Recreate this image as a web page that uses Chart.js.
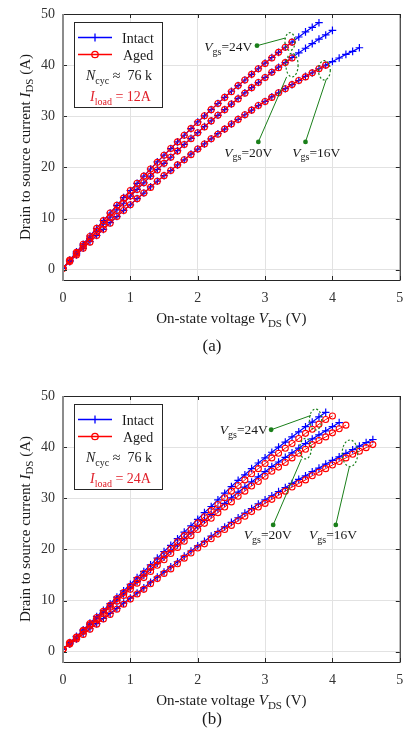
<!DOCTYPE html>
<html>
<head>
<meta charset="utf-8">
<script src="https://cdn.jsdelivr.net/npm/chart.js@4.4.0/dist/chart.umd.min.js"></script>
<style>
    body { margin: 0; background: #fff; }
    canvas { display: block; }
</style>
</head>
<body>
<canvas id="graficoA" width="405" height="382"></canvas>
<canvas id="graficoB" width="405" height="354"></canvas>
<script>
// Tensión (V), común a todas las curvas
const voltaje = [0, 0.1, 0.2, 0.3, 0.4, 0.5, 0.6, 0.7, 0.8, 0.9,
    1.0, 1.1, 1.2, 1.3, 1.4, 1.5, 1.6, 1.7, 1.8, 1.9,
    2.0, 2.1, 2.2, 2.3, 2.4, 2.5, 2.6, 2.7, 2.8, 2.9,
    3.0, 3.1, 3.2, 3.3, 3.4, 3.5, 3.6, 3.7, 3.8, 3.9,
    4.0, 4.1, 4.2, 4.3, 4.4, 4.5, 4.6];
const marcasX = [0, 1, 2, 3, 4, 5];
const marcasY = [0, 10, 20, 30, 40, 50];

// (a) Iload = 12A
const a24Intacto = [0.3, 1.9, 3.5, 5.0, 6.6, 8.1, 9.6, 11.1, 12.6, 14.1, 15.5, 16.9, 18.3, 19.7, 21.1, 22.4, 23.7, 25.0, 26.3, 27.6, 28.9, 30.1, 31.3, 32.5, 33.7, 34.9, 36.0, 37.1, 38.2, 39.3, 40.4, 41.5, 42.5, 43.5, 44.5, 45.5, 46.5, 47.4, 48.3];
const a24Envejecido = [0.3, 1.9, 3.4, 5.0, 6.5, 8.1, 9.6, 11.1, 12.6, 14.0, 15.5, 16.9, 18.3, 19.7, 21.0, 22.4, 23.7, 25.0, 26.3, 27.6, 28.8, 30.1, 31.3, 32.5, 33.7, 34.8, 36.0, 37.1, 38.2, 39.3, 40.3, 41.4, 42.5, 43.5, 44.5];
const a20Intacto = [0.3, 1.8, 3.2, 4.7, 6.1, 7.5, 8.9, 10.3, 11.7, 13.0, 14.4, 15.7, 17.0, 18.3, 19.6, 20.8, 22.0, 23.3, 24.5, 25.7, 26.8, 28.0, 29.1, 30.2, 31.3, 32.4, 33.5, 34.6, 35.6, 36.6, 37.6, 38.6, 39.6, 40.5, 41.5, 42.4, 43.3, 44.2, 45.1, 45.9, 46.8];
const a20Envejecido = [0.3, 1.8, 3.2, 4.6, 6.1, 7.5, 8.9, 10.3, 11.6, 13.0, 14.4, 15.7, 17.0, 18.3, 19.5, 20.8, 22.0, 23.2, 24.5, 25.6, 26.8, 27.9, 29.1, 30.2, 31.3, 32.4, 33.4, 34.5, 35.6, 36.6, 37.6, 38.6, 39.5, 40.5, 41.4];
const a16Intacto = [0.3, 1.6, 2.9, 4.2, 5.5, 6.7, 7.9, 9.2, 10.4, 11.6, 12.7, 13.9, 15.0, 16.2, 17.3, 18.4, 19.4, 20.5, 21.5, 22.6, 23.6, 24.6, 25.6, 26.6, 27.5, 28.5, 29.4, 30.3, 31.2, 32.1, 32.9, 33.8, 34.6, 35.4, 36.2, 37.0, 37.8, 38.5, 39.3, 40.0, 40.7, 41.4, 42.1, 42.7, 43.4];
const a16Envejecido = [0.3, 1.6, 2.9, 4.2, 5.4, 6.7, 7.9, 9.1, 10.4, 11.6, 12.7, 13.9, 15.0, 16.1, 17.3, 18.4, 19.4, 20.5, 21.5, 22.5, 23.6, 24.6, 25.6, 26.5, 27.5, 28.5, 29.4, 30.3, 31.2, 32.1, 32.9, 33.7, 34.6, 35.4, 36.2, 37.0, 37.7, 38.5, 39.3, 40.0];

// (b) Iload = 24A
const b24Intacto = [0.5, 1.8, 3.0, 4.3, 5.6, 6.9, 8.1, 9.4, 10.7, 11.9, 13.2, 14.5, 15.7, 17.0, 18.3, 19.6, 20.8, 22.1, 23.4, 24.6, 25.9, 27.2, 28.4, 29.7, 31.0, 32.3, 33.5, 34.6, 35.8, 36.9, 37.9, 39.0, 40.0, 41.0, 42.0, 43.0, 44.0, 44.9, 45.9, 46.8];
const b24Envejecido = [0.5, 1.8, 2.9, 4.2, 5.5, 6.7, 7.9, 9.1, 10.4, 11.6, 12.8, 14.1, 15.3, 16.5, 17.8, 19.0, 20.2, 21.5, 22.7, 23.9, 25.2, 26.4, 27.6, 28.8, 30.1, 31.4, 32.5, 33.6, 34.8, 35.8, 36.8, 37.9, 38.8, 39.8, 40.7, 41.7, 42.7, 43.5, 44.5, 45.4, 46.1];
const b20Intacto = [0.5, 1.7, 2.9, 4.1, 5.3, 6.5, 7.7, 8.9, 10.1, 11.3, 12.5, 13.7, 14.9, 16.1, 17.3, 18.5, 19.7, 20.9, 22.1, 23.3, 24.5, 25.7, 26.8, 27.9, 29.0, 30.1, 31.2, 32.2, 33.2, 34.2, 35.2, 36.2, 37.1, 38.0, 38.9, 39.8, 40.7, 41.6, 42.4, 43.2, 44.0, 44.8];
const b20Envejecido = [0.5, 1.7, 2.8, 4.0, 5.2, 6.3, 7.5, 8.7, 9.9, 11.0, 12.2, 13.4, 14.5, 15.7, 16.9, 18.0, 19.2, 20.4, 21.6, 22.7, 23.9, 25.1, 26.1, 27.2, 28.3, 29.3, 30.4, 31.4, 32.4, 33.3, 34.3, 35.3, 36.1, 37.0, 37.9, 38.8, 39.6, 40.5, 41.3, 42.0, 42.8, 43.6, 44.3];
const b16Intacto = [0.5, 1.5, 2.5, 3.5, 4.5, 5.5, 6.5, 7.5, 8.5, 9.5, 10.5, 11.5, 12.5, 13.6, 14.6, 15.6, 16.6, 17.6, 18.7, 19.7, 20.7, 21.6, 22.6, 23.5, 24.4, 25.3, 26.2, 27.1, 28.0, 28.9, 29.7, 30.5, 31.3, 32.1, 32.9, 33.7, 34.4, 35.2, 35.9, 36.7, 37.4, 38.1, 38.8, 39.5, 40.2, 40.9, 41.5];
const b16Envejecido = [0.5, 1.5, 2.5, 3.4, 4.4, 5.4, 6.4, 7.3, 8.3, 9.3, 10.3, 11.3, 12.2, 13.3, 14.3, 15.3, 16.2, 17.2, 18.3, 19.3, 20.3, 21.1, 22.1, 23.0, 23.9, 24.7, 25.6, 26.5, 27.4, 28.3, 29.0, 29.8, 30.6, 31.4, 32.2, 32.9, 33.6, 34.4, 35.1, 35.8, 36.5, 37.2, 37.9, 38.6, 39.2, 39.9, 40.5];

const FUENTE = '"Liberation Serif", "Times New Roman", serif';
const TINTA = '#262626';
const VERDE = '#1a7f1a';
const AZUL = '#0000ff';
const ROJO = '#ff0000';

// texto con cursivas y subíndices: partes = [[texto, 'n'|'i'|'s'], ...]
function escribir(ctx, partes, x, y, alineado, tam) {
    const fuente = tipo => (tipo === 'i' ? 'italic ' : '') + (tipo === 's' ? Math.round(tam * 0.72) : tam) + 'px ' + FUENTE;
    let total = 0;
    const anchos = partes.map(([t, tipo]) => {
        ctx.font = fuente(tipo);
        const w = ctx.measureText(t).width;
        total += w;
        return w;
    });
    let cx = alineado === 'right' ? x - total : alineado === 'center' ? x - total / 2 : x;
    ctx.textAlign = 'left';
    ctx.textBaseline = 'alphabetic';
    partes.forEach(([t, tipo], i) => {
        ctx.font = fuente(tipo);
        ctx.fillText(t, cx, y + (tipo === 's' ? tam * 0.25 : 0));
        cx += anchos[i];
    });
}

const marcoPlugin = {
    id: 'marco',
    afterDraw(chart, args, opts) {
        const { ctx, chartArea: ca, scales: { x, y } } = chart;
        ctx.save();

        // marco y marcas hacia dentro
        ctx.strokeStyle = TINTA;
        ctx.lineWidth = 1;
        ctx.beginPath();
        ctx.moveTo(ca.left, ca.top + 0.5); ctx.lineTo(ca.right + 0.5, ca.top + 0.5);
        ctx.lineTo(ca.right + 0.5, ca.bottom + 0.5); ctx.lineTo(ca.left, ca.bottom + 0.5);
        marcasX.forEach(v => {
            const px = Math.round(x.getPixelForValue(v)) + 0.5;
            ctx.moveTo(px, ca.bottom); ctx.lineTo(px, ca.bottom - 4);
            ctx.moveTo(px, ca.top); ctx.lineTo(px, ca.top + 4);
        });
        marcasY.forEach(v => {
            const py = Math.round(y.getPixelForValue(v)) + 0.5;
            ctx.moveTo(ca.left, py); ctx.lineTo(ca.left + 4, py);
            ctx.moveTo(ca.right, py); ctx.lineTo(ca.right - 4, py);
        });
        ctx.stroke();
        ctx.strokeStyle = '#8c8c8c';
        ctx.lineWidth = 2;
        ctx.beginPath();
        ctx.moveTo(ca.left, ca.top); ctx.lineTo(ca.left, ca.bottom + 1);
        ctx.stroke();

        // anotaciones Vgs
        opts.anotaciones.forEach(an => {
            const ex = x.getPixelForValue(an.elipse[0]);
            const ey = y.getPixelForValue(an.elipse[1]);
            const rx = x.getPixelForValue(an.elipse[0] + an.elipse[2]) - ex;
            const ry = ey - y.getPixelForValue(an.elipse[1] + an.elipse[3]);
            ctx.strokeStyle = VERDE;
            ctx.lineWidth = 1.2;
            ctx.setLineDash([2, 2]);
            ctx.beginPath();
            ctx.ellipse(ex, ey, rx, ry, 0, 0, Math.PI * 2);
            ctx.stroke();
            ctx.setLineDash([]);
            const px = x.getPixelForValue(an.punto[0]);
            const py = y.getPixelForValue(an.punto[1]);
            ctx.lineWidth = 1;
            ctx.beginPath();
            ctx.moveTo(px, py);
            ctx.lineTo(x.getPixelForValue(an.fin[0]), y.getPixelForValue(an.fin[1]));
            ctx.stroke();
            ctx.fillStyle = VERDE;
            ctx.beginPath();
            ctx.arc(px, py, 2.4, 0, Math.PI * 2);
            ctx.fill();
            ctx.fillStyle = '#1a1a1a';
            escribir(ctx, [['V', 'i'], ['gs', 's'], ['=' + an.texto, 'n']],
                x.getPixelForValue(an.pos[0]), y.getPixelForValue(an.pos[1]) + 4.5, an.alineado, 13.5);
        });

        // leyenda
        const L = ca.left, T = ca.top;
        ctx.fillStyle = '#fff';
        ctx.fillRect(L + 11, T + 8, 88, 85);
        ctx.strokeStyle = TINTA;
        ctx.lineWidth = 1;
        ctx.strokeRect(L + 11.5, T + 8.5, 88, 85);
        ctx.lineWidth = 1.3;
        ctx.strokeStyle = AZUL;
        ctx.beginPath();
        ctx.moveTo(L + 15, T + 23.5); ctx.lineTo(L + 49, T + 23.5);
        ctx.moveTo(L + 32, T + 19.5); ctx.lineTo(L + 32, T + 27.5);
        ctx.stroke();
        ctx.strokeStyle = ROJO;
        ctx.beginPath();
        ctx.moveTo(L + 15, T + 40.5); ctx.lineTo(L + 49, T + 40.5);
        ctx.stroke();
        ctx.beginPath();
        ctx.arc(L + 32, T + 40.5, 3.2, 0, Math.PI * 2);
        ctx.stroke();
        ctx.fillStyle = '#1a1a1a';
        escribir(ctx, [['Intact', 'n']], L + 59, T + 28.5, 'left', 14);
        escribir(ctx, [['Aged', 'n']], L + 60, T + 45.5, 'left', 14);
        escribir(ctx, [['N', 'i'], ['cyc', 's'], [' \u2248  76 k', 'n']], L + 23, T + 66, 'left', 14);
        ctx.fillStyle = '#e0202a';
        escribir(ctx, [['I', 'i'], ['load', 's'], [' = ' + opts.carga, 'n']], L + 27, T + 87, 'left', 14);

        // títulos de ejes y rótulo
        ctx.fillStyle = '#1a1a1a';
        escribir(ctx, [['On-state voltage ', 'n'], ['V', 'i'], ['DS', 's'], [' (V)', 'n']],
            (ca.left + ca.right) / 2, ca.bottom + 43, 'center', 15);
        ctx.save();
        ctx.translate(24, (ca.top + ca.bottom) / 2);
        ctx.rotate(-Math.PI / 2);
        escribir(ctx, [['Drain to source current ', 'n'], ['I', 'i'], ['DS', 's'], [' (A)', 'n']], 0, 5.5, 'center', 15);
        ctx.restore();
        escribir(ctx, [[opts.etiqueta, 'n']], 212, ca.bottom + opts.desfaseEtiqueta, 'center', 17);

        ctx.restore();
    }
};

function puntos(corriente) {
    return corriente.map((valor, i) => ({ x: voltaje[i], y: valor }));
}

function serieIntacta(corriente) {
    return {
        data: puntos(corriente),
        showLine: true,
        borderColor: AZUL,
        borderWidth: 1.2,
        pointStyle: 'cross',
        pointRadius: 3.8,
        pointBorderColor: AZUL,
        pointBorderWidth: 1.2,
        order: 1,
    };
}

function serieEnvejecida(corriente) {
    return {
        data: puntos(corriente),
        showLine: true,
        borderColor: ROJO,
        borderWidth: 1,
        pointStyle: 'circle',
        pointRadius: 3,
        pointBackgroundColor: 'rgba(0,0,0,0)',
        pointBorderColor: ROJO,
        pointBorderWidth: 1.1,
        order: 0,
    };
}

function dibujarGrafico(idLienzo, intactas, envejecidas, marco, margenInferior) {
    const ctx = document.getElementById(idLienzo).getContext('2d');
    const fuenteMarcas = { family: FUENTE, size: 14 };
    return new Chart(ctx, {
        type: 'scatter',
        data: {
            datasets: intactas.map(serieIntacta).concat(envejecidas.map(serieEnvejecida))
        },
        options: {
            responsive: false,
            animation: false,
            devicePixelRatio: 1,
            layout: { padding: { top: 14, right: 2, bottom: margenInferior, left: 0 } },
            plugins: {
                legend: { display: false },
                tooltip: { enabled: false },
                marco: marco,
            },
            scales: {
                x: {
                    type: 'linear',
                    min: 0,
                    max: 5,
                    afterBuildTicks: s => { s.ticks = marcasX.map(v => ({ value: v })); },
                    afterFit: s => { s.height = 30; s.paddingLeft = 0; s.paddingRight = 0; },
                    grid: { color: '#e2e2e2', drawTicks: false },
                    border: { display: false },
                    ticks: { font: fuenteMarcas, color: '#333', padding: 10, maxRotation: 0, autoSkip: false },
                },
                y: {
                    type: 'linear',
                    min: -2,
                    max: 50,
                    afterBuildTicks: s => { s.ticks = marcasY.map(v => ({ value: v })); },
                    afterFit: s => { s.width = 63; s.paddingTop = 0; s.paddingBottom = 0; },
                    grid: { color: '#e2e2e2', drawTicks: false },
                    border: { display: false },
                    ticks: { font: fuenteMarcas, color: '#333', padding: 8, autoSkip: false },
                },
            }
        },
        plugins: [marcoPlugin]
    });
}

dibujarGrafico('graficoA',
    [a24Intacto, a20Intacto, a16Intacto],
    [a24Envejecido, a20Envejecido, a16Envejecido],
    {
        carga: '12A',
        etiqueta: '(a)',
        desfaseEtiqueta: 71,
        anotaciones: [
            { texto: '24V', pos: [2.81, 43.6], alineado: 'right', punto: [2.88, 43.8], fin: [3.30, 45.3], elipse: [3.37, 44.6, 0.075, 1.75] },
            { texto: '20V', pos: [2.75, 23.0], alineado: 'center', punto: [2.90, 25.0], fin: [3.32, 37.7], elipse: [3.40, 40.0, 0.09, 2.3] },
            { texto: '16V', pos: [3.76, 23.0], alineado: 'center', punto: [3.60, 25.0], fin: [3.91, 37.3], elipse: [3.88, 39.0, 0.088, 1.9] },
        ]
    }, 72);

dibujarGrafico('graficoB',
    [b24Intacto, b20Intacto, b16Intacto],
    [b24Envejecido, b20Envejecido, b16Envejecido],
    {
        carga: '24A',
        etiqueta: '(b)',
        desfaseEtiqueta: 62,
        anotaciones: [
            { texto: '24V', pos: [3.04, 43.4], alineado: 'right', punto: [3.09, 43.4], fin: [3.68, 46.2], elipse: [3.75, 45.4, 0.091, 2.05] },
            { texto: '20V', pos: [3.04, 22.9], alineado: 'center', punto: [3.12, 24.8], fin: [3.54, 37.7], elipse: [3.60, 39.7, 0.086, 2.0] },
            { texto: '16V', pos: [4.01, 22.9], alineado: 'center', punto: [4.05, 24.8], fin: [4.25, 36.1], elipse: [4.26, 38.8, 0.115, 2.6] },
        ]
    }, 44);
</script>
</body>
</html>
